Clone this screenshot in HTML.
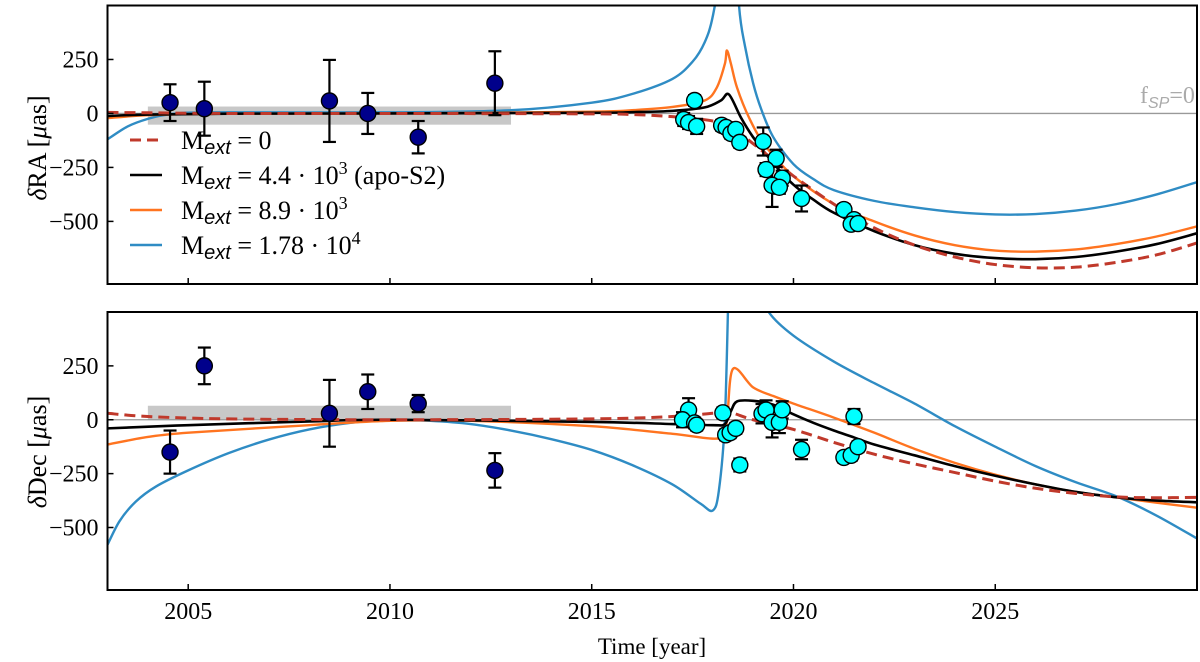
<!DOCTYPE html>
<html><head><meta charset="utf-8">
<style>
html,body{margin:0;padding:0;background:#fff;}
svg{display:block;font-family:"Liberation Serif",serif;}
</style></head>
<body>
<svg id="chart" width="1200" height="662" viewBox="0 0 1200 662">
<defs>
<clipPath id="clipTop"><rect x="107.5" y="5.5" width="1089.5" height="278.5"/></clipPath>
<clipPath id="clipBot"><rect x="107.5" y="312" width="1089.5" height="278"/></clipPath>
</defs>
<g id="top"></g>
<g id="bot"></g>
<text x="46" y="148" transform="rotate(-90 46 148)" text-anchor="middle" font-size="26"><tspan font-style="italic">δ</tspan>RA [<tspan font-style="italic">μ</tspan>as]</text>
<text x="46" y="452" transform="rotate(-90 46 452)" text-anchor="middle" font-size="26"><tspan font-style="italic">δ</tspan>Dec [<tspan font-style="italic">μ</tspan>as]</text>
<text x="652" y="654" text-anchor="middle" font-size="23">Time [year]</text>
<text x="1140" y="103" font-size="24" fill="#aaa">f<tspan font-style="italic" font-size="16" dy="5" font-family="Liberation Sans,sans-serif">SP</tspan><tspan dy="-5">=0</tspan></text>
<g id="legend"></g>
</svg>
<script>
// ---------- data ----------
const xTicks = [2005, 2010, 2015, 2020, 2025];
const yTicks = [250, 0, -250, -500];

// RA model curves
const raM0Years  = [2003,2004,2006,2010,2015,2016,2017,2018,2018.5,2019,2019.5,2020,2021,2022,2023,2024,2025,2026,2027,2028,2029,2030];
const raM0Vals   = [5,3,0,0,-2,-5,-15,-35,-70,-140,-215,-290,-420,-530,-610,-665,-700,-715,-712,-690,-655,-600];
const raM1Years  = [2003,2004,2006,2010,2015,2016,2017,2017.8,2018.2,2018.4,2018.7,2019,2019.5,2020,2020.5,2021,2022,2023,2024,2025,2026,2027,2028,2029,2030];
const raM1Vals   = [-12,-5,-1,0,3,6,12,28,60,88,-20,-110,-230,-330,-400,-460,-545,-610,-650,-670,-675,-665,-640,-605,-555];
const raM2Years  = [2003,2004,2006,2010,2015,2016,2017,2017.8,2018.1,2018.3,2018.35,2018.45,2018.6,2018.9,2019.3,2020,2021,2022,2023,2024,2025,2026,2027,2028,2029,2030];
const raM2Vals   = [-22,-8,-1,0,8,15,30,60,120,230,292,230,120,-20,-150,-290,-420,-500,-565,-610,-635,-640,-630,-605,-570,-523];
const raM3aYears = [2003,2003.5,2004,2004.5,2005.5,2010,2013,2015,2016,2017,2017.5,2017.8,2018.0,2018.2,2018.35];
const raM3aVals  = [-120,-60,-25,-5,5,5,15,50,90,160,240,330,450,700,1200];
const raM3bYears = [2018.5,2018.65,2018.8,2019.0,2019.2,2019.5,2020,2020.5,2021,2022,2023,2024,2025,2026,2027,2028,2029,2030];
const raM3bVals  = [1000,500,310,140,20,-110,-235,-305,-355,-405,-435,-457,-468,-466,-450,-420,-375,-318];

// Dec model curves
const decM0Years = [2003,2004,2006,2010,2015,2017,2018,2018.4,2019,2020,2021,2022,2023,2024,2025,2026,2027,2028,2029,2030];
const decM0Vals  = [30,15,4,0,4,15,30,35,0,-45,-105,-160,-205,-245,-285,-318,-342,-358,-362,-360];
const decM1Years = [2003,2005,2008,2010,2015,2017,2018,2018.3,2018.45,2018.6,2019,2019.5,2020,2020.5,2021,2021.5,2022,2023,2024,2025,2026,2027,2028,2029,2030];
const decM1Vals  = [-40,-25,-8,0,-10,-20,-25,-20,40,85,88,70,25,-15,-50,-82,-115,-165,-215,-260,-300,-335,-360,-375,-383];
const decM2Years = [2003,2004,2005,2008,2010,2012,2015,2017,2018.2,2018.35,2018.5,2019,2019.5,2020,2021,2022,2023,2024,2025,2026,2027,2028,2029,2030];
const decM2Vals  = [-115,-80,-60,-25,-5,-5,-30,-65,-85,0,236,150,110,75,10,-60,-135,-200,-255,-300,-335,-360,-385,-408];
const decM3aYears= [2003,2003.3,2003.7,2004.2,2005,2006,2007,2008,2009,2010,2011,2012,2013,2014,2015,2016,2017,2017.7,2018.0,2018.15,2018.3,2018.4];
const decM3aVals = [-580,-470,-380,-310,-235,-155,-92,-45,-15,0,-5,-20,-50,-90,-140,-210,-300,-390,-421,-330,0,700];
const decM3bYears= [2019.2,2019.4,2020,2021,2022,2023,2024,2025,2026,2027,2028,2029,2030];
const decM3bVals = [600,496,390,270,170,75,-30,-125,-215,-290,-355,-445,-551];

// observations
const oldYears  = [2004.55,2005.4,2008.5,2009.45,2010.7,2012.6];
const oldRA     = [50,22,58,0,-110,140];
const oldRAerr  = [85,125,190,95,75,148];
const oldDec    = [-150,250,30,130,75,-235];
const oldDecErr = [100,85,155,80,40,80];

const newRAYears = [2017.55,2017.28,2017.4,2017.6,2018.22,2018.33,2018.45,2018.57,2018.67,2019.25,2019.57,2019.32,2019.72,2019.47,2019.65,2020.2,2021.25,2021.5,2021.43,2021.6];
const newRA      = [60,-28,-42,-60,-55,-65,-93,-74,-134,-130,-208,-260,-300,-333,-342,-394,-445,-492,-513,-510];
const newRAerr   = [25,30,30,35,25,25,25,25,25,65,40,30,35,100,30,60,25,25,25,25];
const newDecYears= [2017.4,2017.25,2017.55,2017.6,2018.25,2018.32,2018.43,2018.57,2018.67,2019.22,2019.32,2019.47,2019.65,2019.72,2020.2,2021.25,2021.43,2021.6,2021.5];
const newDec     = [45,0,-15,-25,32,-70,-60,-40,-210,28,45,-12,-12,46,-138,-175,-165,-125,15];
const newDecErr  = [55,35,25,25,25,25,25,25,30,45,45,70,50,40,45,25,25,25,35];

// ---------- helpers ----------
const NS = 'http://www.w3.org/2000/svg';
const X0 = 107.5, X1 = 1197, YR0 = 2003, YR1 = 2030;
const VMIN = -790, VMAX = 500;
function xs(v){ return X0 + (v - YR0) / (YR1 - YR0) * (X1 - X0); }
function makeY(top, bottom){ return v => bottom - (v - VMIN) / (VMAX - VMIN) * (bottom - top); }
const yTop = makeY(5.5, 284);
const yBot = makeY(312, 590);
function el(tag, attrs, parent){ const e = document.createElementNS(NS, tag); for (const k in attrs) e.setAttribute(k, attrs[k]); parent.appendChild(e); return e; }
function smoothPath(xa, ya, ys){
  const p = xa.map((x,i)=>[xs(x), ys(ya[i])]);
  let d = 'M' + p[0][0].toFixed(2) + ',' + p[0][1].toFixed(2);
  for (let i=0;i<p.length-1;i++){
    const p0 = p[Math.max(0,i-1)], p1 = p[i], p2 = p[i+1], p3 = p[Math.min(p.length-1,i+2)];
    const t = 0.16;
    const c1 = [p1[0]+(p2[0]-p0[0])*t, p1[1]+(p2[1]-p0[1])*t];
    const c2 = [p2[0]-(p3[0]-p1[0])*t, p2[1]-(p3[1]-p1[1])*t];
    d += ' C' + c1.map(v=>v.toFixed(2)).join(',') + ' ' + c2.map(v=>v.toFixed(2)).join(',') + ' ' + p2[0].toFixed(2)+','+p2[1].toFixed(2);
  }
  return d;
}

function drawPanel(g, top, bottom, ys, clipId, panel){
  const band = el('rect', {x: xs(2004), y: panel==='ra'? ys(32): ys(65), width: xs(2013)-xs(2004), height: panel==='ra'? ys(-52)-ys(32): ys(0)-ys(65), fill:'#c8c8c8'}, g);
  
  
  const zl = el('line', {x1:X0, x2:X1, y1:ys(0), y2:ys(0), stroke:'#999', 'stroke-width':1.3}, g);
  
  
}

function drawCurves(g, ys, clipId, list){
  const cg = el('g', {'clip-path':'url(#'+clipId+')'}, g);
  list.forEach(c=>{
    const path = el('path', {d: smoothPath(c.x, c.y, ys), fill:'none', stroke:c.color, 'stroke-width': c.w, 'stroke-dasharray': c.dash || 'none', 'stroke-linejoin':'round'}, cg);
    
    
  });
}

function drawPoints(g, ys, yrs, vals, errs, fill, name){
  const pg = el('g', {}, g);
  
  
  yrs.forEach((yr,i)=>{
    const x = xs(yr), yh = ys(vals[i]+errs[i]), yl = ys(vals[i]-errs[i]);
    el('line', {x1:x, x2:x, y1:yh, y2:yl, stroke:'#000', 'stroke-width':2.2}, pg);
    el('line', {x1:x-6.5, x2:x+6.5, y1:yh, y2:yh, stroke:'#000', 'stroke-width':2.2}, pg);
    el('line', {x1:x-6.5, x2:x+6.5, y1:yl, y2:yl, stroke:'#000', 'stroke-width':2.2}, pg);
  });
  yrs.forEach((yr,i)=>{
    const c = el('circle', {cx: xs(yr), cy: ys(vals[i]), r: 8, fill: fill, stroke:'#000', 'stroke-width':1.4}, pg);
    
    
  });
}

function drawFrame(g, top, bottom, ys, panel, labels){
  const f = el('rect', {x:X0, y:top, width:X1-X0, height:bottom-top, fill:'none', stroke:'#000', 'stroke-width':2}, g);
  
  
  yTicks.forEach(t=>{
    el('line', {x1:X0, x2:X0+6, y1:ys(t), y2:ys(t), stroke:'#000', 'stroke-width':1.5}, g);
    const tx = el('text', {x:X0-9, y:ys(t)+8, 'text-anchor':'end', 'font-size':24}, g);
    tx.textContent = t < 0 ? '\u2212' + Math.abs(t) : String(t);
    
    
  });
  xTicks.forEach(t=>{
    el('line', {x1:xs(t), x2:xs(t), y1:bottom, y2:bottom-6, stroke:'#000', 'stroke-width':1.5}, g);
    if (labels){
      const tx = el('text', {x:xs(t), y:bottom+29, 'text-anchor':'middle', 'font-size':24}, g);
      tx.textContent = String(t);
      
      
    }
  });
}

const RED='#c0392b', BLK='#000', ORG='#ff7420', BLU='#2f8cc4';
const gTop = document.getElementById('top'), gBot = document.getElementById('bot');

drawPanel(gTop, 5.5, 284, yTop, 'clipTop', 'ra');
drawCurves(gTop, yTop, 'clipTop', [
  {x:raM3aYears, y:raM3aVals, color:BLU, w:2.4, name:'ra-curve-m3-left'},
  {x:raM3bYears, y:raM3bVals, color:BLU, w:2.4, name:'ra-curve-m3-right'},
  {x:raM2Years, y:raM2Vals, color:ORG, w:2.4, name:'ra-curve-m2'},
  {x:raM1Years, y:raM1Vals, color:BLK, w:2.6, name:'ra-curve-m1'},
  {x:raM0Years, y:raM0Vals, color:RED, w:3, dash:'11,6', name:'ra-curve-m0'}
]);
drawPoints(gTop, yTop, oldYears, oldRA, oldRAerr, '#00008b', 'ra-old-data');
drawPoints(gTop, yTop, newRAYears, newRA, newRAerr, '#00ffff', 'ra-new-data');
drawFrame(gTop, 5.5, 284, yTop, 'ra', false);

drawPanel(gBot, 312, 590, yBot, 'clipBot', 'dec');
drawCurves(gBot, yBot, 'clipBot', [
  {x:decM3aYears, y:decM3aVals, color:BLU, w:2.4, name:'dec-curve-m3-left'},
  {x:decM3bYears, y:decM3bVals, color:BLU, w:2.4, name:'dec-curve-m3-right'},
  {x:decM2Years, y:decM2Vals, color:ORG, w:2.4, name:'dec-curve-m2'},
  {x:decM1Years, y:decM1Vals, color:BLK, w:2.6, name:'dec-curve-m1'},
  {x:decM0Years, y:decM0Vals, color:RED, w:3, dash:'11,6', name:'dec-curve-m0'}
]);
drawPoints(gBot, yBot, oldYears, oldDec, oldDecErr, '#00008b', 'dec-old-data');
drawPoints(gBot, yBot, newDecYears, newDec, newDecErr, '#00ffff', 'dec-new-data');
drawFrame(gBot, 312, 590, yBot, 'dec', true);

// legend
const lg = document.getElementById('legend');
const legendItems = [
  {color:RED, dash:'11,6', w:3, rest:' = 0', sup:'', tail:'', name:'legend-entry-m0'},
  {color:BLK, w:2.6, rest:' = 4.4 · 10', sup:'3', tail:' (apo-S2)', name:'legend-entry-m1'},
  {color:ORG, w:2.4, rest:' = 8.9 · 10', sup:'3', tail:'', name:'legend-entry-m2'},
  {color:BLU, w:2.4, rest:' = 1.78 · 10', sup:'4', tail:'', name:'legend-entry-m3'}
];
legendItems.forEach((it,i)=>{
  const y = 140 + i*35;
  const g = el('g', {}, lg);
  
  
  el('line', {x1:130, x2:162, y1:y, y2:y, stroke:it.color, 'stroke-width':it.w, 'stroke-dasharray':it.dash||'none'}, g);
  const t = el('text', {x:181, y:y+9, 'font-size':26}, g);
  t.innerHTML = 'M<tspan font-style="italic" font-family="Liberation Sans,sans-serif" font-size="20" dy="5">ext</tspan><tspan dy="-5">' + it.rest + '</tspan>' +
    (it.sup ? '<tspan font-size="18" dy="-10">' + it.sup + '</tspan><tspan dy="10">' + it.tail + '</tspan>' : '');
});
</script>
</body></html>
